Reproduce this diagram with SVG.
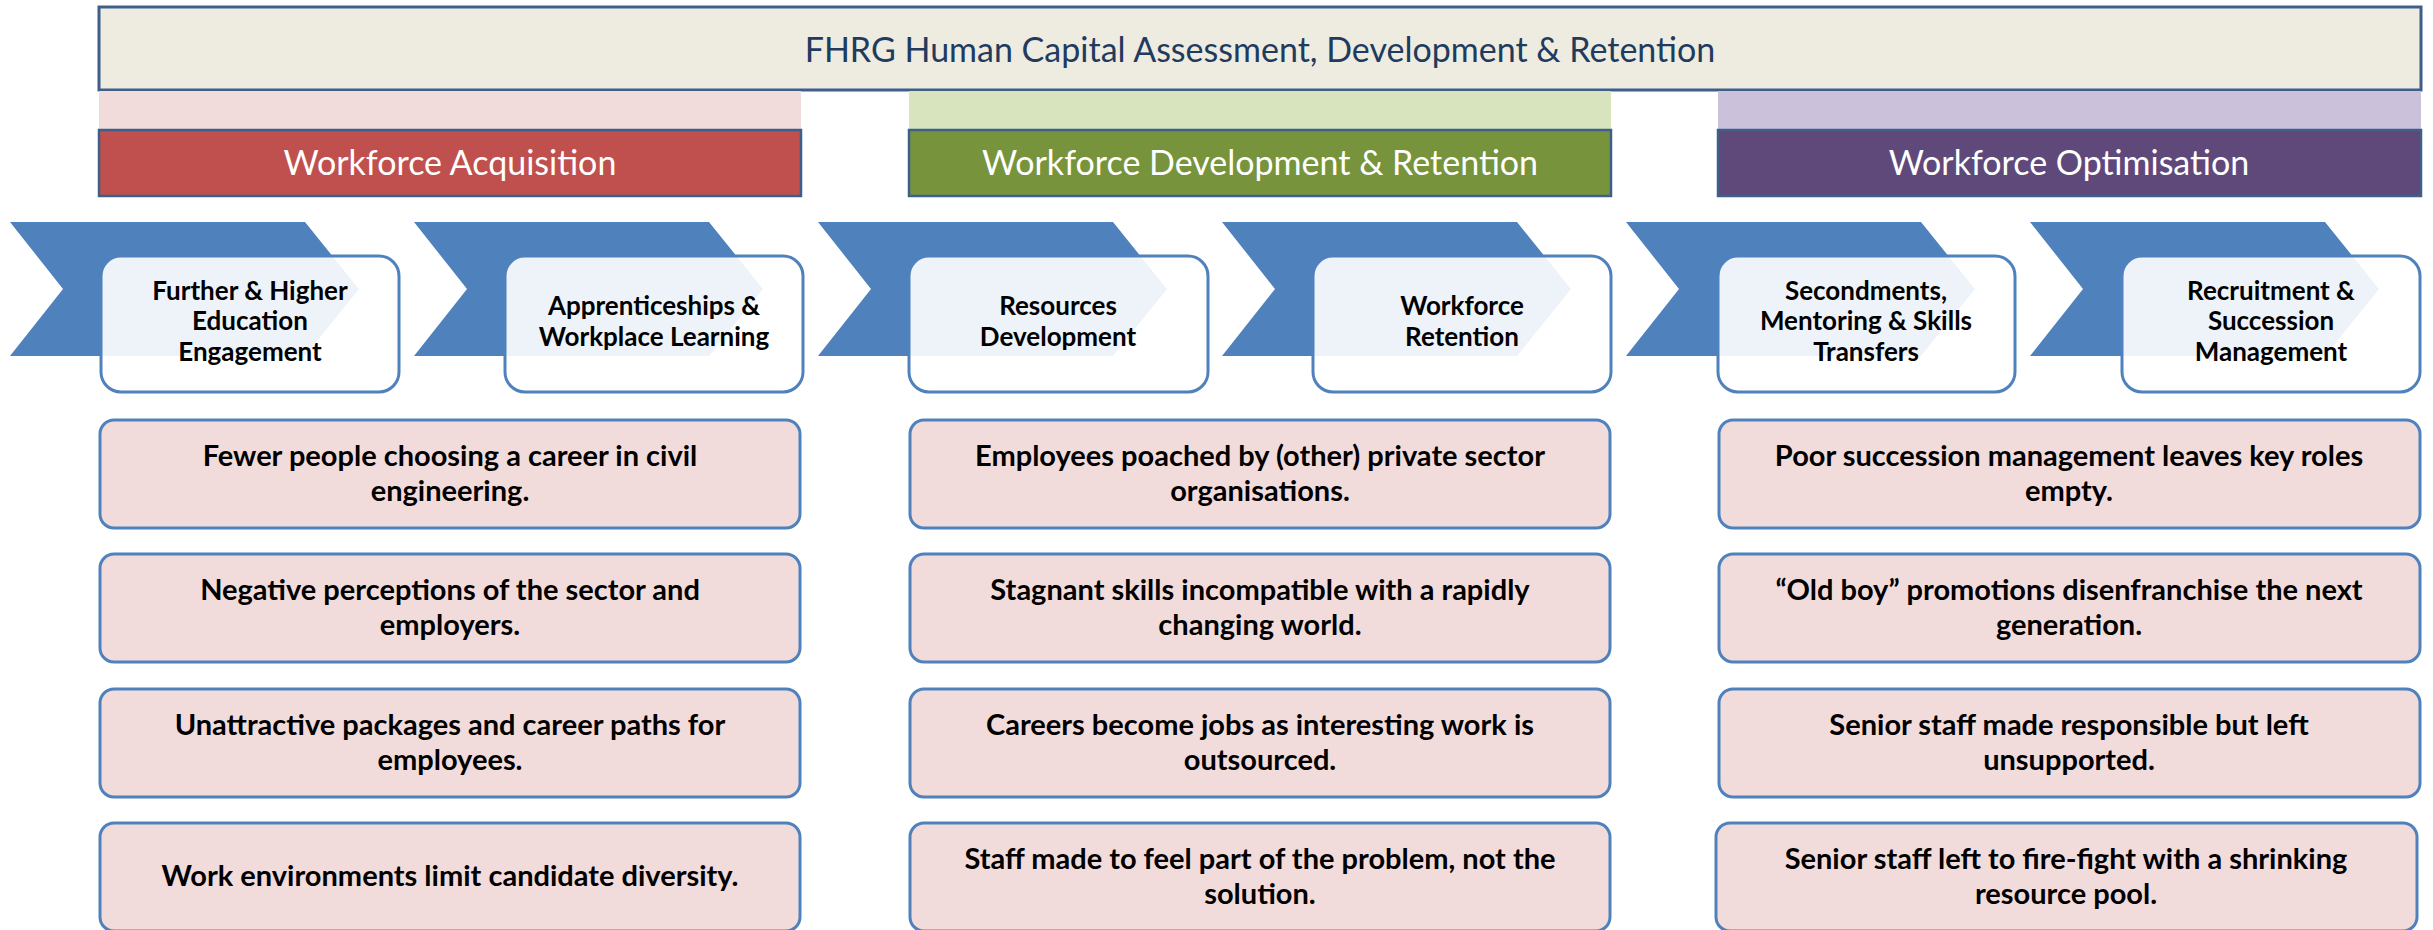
<svg xmlns="http://www.w3.org/2000/svg" width="2433" height="930" viewBox="0 0 2433 930">
<style>
.t{font-family:Lato,"Open Sans","Liberation Sans",sans-serif;text-anchor:middle}
.title{font-size:34px;fill:#1F3B5E}
.hdr{font-size:34px;fill:#FFFFFF}
.step{font-size:26px;font-weight:bold;fill:#000}
.prob{font-size:29px;font-weight:bold;fill:#000}
.chev{fill:#4F81BD}
.sbox{fill:#FFFFFF;fill-opacity:0.9;stroke:#4F81BD;stroke-width:3}
.pbox{fill:#F2DCDB;stroke:#4F81BD;stroke-width:3}
.hbox{stroke:#3E5F8A;stroke-width:2.5}
</style>
<rect width="2433" height="930" fill="#FFFFFF"/>
<g id="title">
<rect x="99" y="7" width="2322" height="83" fill="#EEEBE0" stroke="#3E5F8A" stroke-width="3"/>
<text class="t title" x="1260" y="62">FHRG Human Capital Assessment, Development &amp; Retention</text>
</g>
<g id="acquisition">
<rect x="99" y="91" width="702" height="39" fill="#F2DCDB"/>
<rect class="hbox" x="99" y="130" width="702" height="66" fill="#C0504D"/>
<text class="t hdr" x="450" y="175">Workforce Acquisition</text>
</g>
<g id="development">
<rect x="909" y="91" width="702" height="39" fill="#D7E4BD"/>
<rect class="hbox" x="909" y="130" width="702" height="66" fill="#77933C"/>
<text class="t hdr" x="1260" y="175">Workforce Development &amp; Retention</text>
</g>
<g id="optimisation">
<rect x="1718" y="91" width="703" height="39" fill="#CCC1DA"/>
<rect class="hbox" x="1718" y="130" width="703" height="66" fill="#5F497A"/>
<text class="t hdr" x="2069" y="175">Workforce Optimisation</text>
</g>
<g id="connectors"></g>
<g id="step-1">
<polygon class="chev" points="10,222 305,222 359,289 305,356 10,356 63,289"/>
<rect class="sbox" x="101" y="256" width="298" height="136" rx="20"/>
<text class="t step" x="250" y="300">Further &amp; Higher<tspan x="250" y="330">Education</tspan><tspan x="250" y="361">Engagement</tspan></text>
</g>
<g id="step-2">
<polygon class="chev" points="414,222 709,222 763,289 709,356 414,356 467,289"/>
<rect class="sbox" x="505" y="256" width="298" height="136" rx="20"/>
<text class="t step" x="654" y="315">Apprenticeships &amp;<tspan x="654" y="346">Workplace Learning</tspan></text>
</g>
<g id="step-3">
<polygon class="chev" points="818,222 1113,222 1167,289 1113,356 818,356 871,289"/>
<rect class="sbox" x="909" y="256" width="299" height="136" rx="20"/>
<text class="t step" x="1058" y="315">Resources<tspan x="1058" y="346">Development</tspan></text>
</g>
<g id="step-4">
<polygon class="chev" points="1222,222 1517,222 1571,289 1517,356 1222,356 1275,289"/>
<rect class="sbox" x="1313" y="256" width="298" height="136" rx="20"/>
<text class="t step" x="1462" y="315">Workforce<tspan x="1462" y="346">Retention</tspan></text>
</g>
<g id="step-5">
<polygon class="chev" points="1626,222 1921,222 1975,289 1921,356 1626,356 1679,289"/>
<rect class="sbox" x="1718" y="256" width="297" height="136" rx="20"/>
<text class="t step" x="1866" y="300">Secondments,<tspan x="1866" y="330">Mentoring &amp; Skills</tspan><tspan x="1866" y="361">Transfers</tspan></text>
</g>
<g id="step-6">
<polygon class="chev" points="2030,222 2325,222 2379,289 2325,356 2030,356 2083,289"/>
<rect class="sbox" x="2122" y="256" width="298" height="136" rx="20"/>
<text class="t step" x="2271" y="300">Recruitment &amp;<tspan x="2271" y="330">Succession</tspan><tspan x="2271" y="361">Management</tspan></text>
</g>
<g id="problem-1-1"><rect class="pbox" x="100" y="420" width="700" height="108" rx="14"/>
<text class="t prob" x="450" y="466">Fewer people choosing a career in civil<tspan x="450" y="501">engineering.</tspan></text></g>
<g id="problem-1-2"><rect class="pbox" x="100" y="554" width="700" height="108" rx="14"/>
<text class="t prob" x="450" y="600">Negative perceptions of the sector and<tspan x="450" y="635">employers.</tspan></text></g>
<g id="problem-1-3"><rect class="pbox" x="100" y="689" width="700" height="108" rx="14"/>
<text class="t prob" x="450" y="735">Unattractive packages and career paths for<tspan x="450" y="770">employees.</tspan></text></g>
<g id="problem-1-4"><rect class="pbox" x="100" y="823" width="700" height="108" rx="14"/>
<text class="t prob" x="450" y="886">Work environments limit candidate diversity.</text></g>
<g id="problem-2-1"><rect class="pbox" x="910" y="420" width="700" height="108" rx="14"/>
<text class="t prob" x="1260" y="466">Employees poached by (other) private sector<tspan x="1260" y="501">organisations.</tspan></text></g>
<g id="problem-2-2"><rect class="pbox" x="910" y="554" width="700" height="108" rx="14"/>
<text class="t prob" x="1260" y="600">Stagnant skills incompatible with a rapidly<tspan x="1260" y="635">changing world.</tspan></text></g>
<g id="problem-2-3"><rect class="pbox" x="910" y="689" width="700" height="108" rx="14"/>
<text class="t prob" x="1260" y="735">Careers become jobs as interesting work is<tspan x="1260" y="770">outsourced.</tspan></text></g>
<g id="problem-2-4"><rect class="pbox" x="910" y="823" width="700" height="108" rx="14"/>
<text class="t prob" x="1260" y="869">Staff made to feel part of the problem, not the<tspan x="1260" y="904">solution.</tspan></text></g>
<g id="problem-3-1"><rect class="pbox" x="1719" y="420" width="701" height="108" rx="14"/>
<text class="t prob" x="2069" y="466">Poor succession management leaves key roles<tspan x="2069" y="501">empty.</tspan></text></g>
<g id="problem-3-2"><rect class="pbox" x="1719" y="554" width="701" height="108" rx="14"/>
<text class="t prob" x="2069" y="600">“Old boy” promotions disenfranchise the next<tspan x="2069" y="635">generation.</tspan></text></g>
<g id="problem-3-3"><rect class="pbox" x="1719" y="689" width="701" height="108" rx="14"/>
<text class="t prob" x="2069" y="735">Senior staff made responsible but left<tspan x="2069" y="770">unsupported.</tspan></text></g>
<g id="problem-3-4"><rect class="pbox" x="1716" y="823" width="701" height="108" rx="14"/>
<text class="t prob" x="2066" y="869">Senior staff left to fire-fight with a shrinking<tspan x="2066" y="904">resource pool.</tspan></text></g>
</svg>
